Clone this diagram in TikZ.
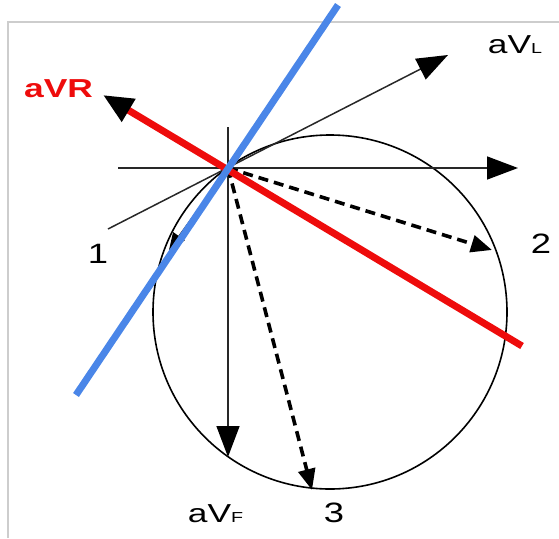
\documentclass[tikz,border=0pt]{standalone}
\usepackage{fontspec}
\setmainfont{Liberation Sans}
\usetikzlibrary{arrows.meta}
\definecolor{avrred}{RGB}{238,12,12}
\definecolor{leadblue}{RGB}{74,134,232}
\definecolor{framegray}{RGB}{205,205,205}
\definecolor{axisgray}{RGB}{40,40,40}
\newcommand\subletter[1]{{\fontsize{14.5}{14.5}\selectfont #1}}
\tikzset{
  lbl/.style={inner sep=0pt, anchor=base, font=\fontsize{26}{26}\selectfont},
  numlbl/.style={inner sep=0pt, anchor=base, font=\fontsize{28}{28}\selectfont},
  axis/.style={draw=axisgray, line width=1.5pt},
  bigtip/.style={-{Triangle[length=31pt,width=23pt,color=black]}},
  dashvec/.style={draw=black, line width=3.6pt, dash pattern=on 10pt off 6pt,
    -{Triangle[length=21pt,width=17pt]}},
  ring/.style={draw=black, line width=1.6pt},
  redlead/.style={draw=avrred, line width=7pt, -{Triangle[length=30pt,width=25pt,color=black]}},
  bluelead/.style={draw=leadblue, line width=7pt}
}
\begin{document}
\begin{tikzpicture}[x=1pt,y=-1pt]
\useasboundingbox (0,0) rectangle (559,538);
% frame
\draw[framegray, line width=1.2pt] (8,538) -- (8,22) -- (559,22);
% points
\coordinate (P) at (228,168);
\coordinate (O) at (330,312);
\coordinate (hL) at (118,168);
\coordinate (hR) at (518,168);
\coordinate (vT) at (228,127);
\coordinate (vB) at (228,457);
\coordinate (lS) at (108,229);
\coordinate (lT) at (448,55);
\coordinate (rT) at (103,95);
\coordinate (rE) at (522,346);
\coordinate (bS) at (76,395);
\coordinate (bE) at (338,5);
\coordinate (d1) at (169,250);
\coordinate (d2) at (492,250);
\coordinate (d3) at (312,490);
% circle
\draw[ring] (O) circle[radius=177];
% thin axes
\draw[axis, bigtip] (hL) -- (hR);
\draw[axis, bigtip] (vT) -- (vB);
\draw[axis, bigtip] (lS) -- (lT);
% vector 1 (mostly hidden)
\draw[draw=black, line width=1.4pt, -{Triangle[length=17pt,width=14pt]}] (P) -- (d1);
% dashed vectors
\draw[dashvec] (P) -- (d2);
\draw[dashvec] (P) -- (d3);
% red lead
\draw[redlead] (rE) -- (rT);
% blue lead
\draw[bluelead] (bS) -- (bE);
% labels
\node[lbl, text=avrred, font=\fontsize{26}{26}\selectfont\bfseries] (aVR) at (58.5,97) {\scalebox{1.36}[1]{aVR}};
\node[lbl] (aVL) at (515,53) {\scalebox{1.36}[1]{aV\subletter{L}}};
\node[lbl] (aVF) at (215.5,522) {\scalebox{1.36}[1]{aV\subletter{F}}};
\node[numlbl] (n1) at (98,263) {\scalebox{1.3}[1]{1}};
\node[numlbl] (n2) at (541,253) {\scalebox{1.3}[1]{2}};
\node[numlbl] (n3) at (334,522) {\scalebox{1.3}[1]{3}};
\end{tikzpicture}
\end{document}
